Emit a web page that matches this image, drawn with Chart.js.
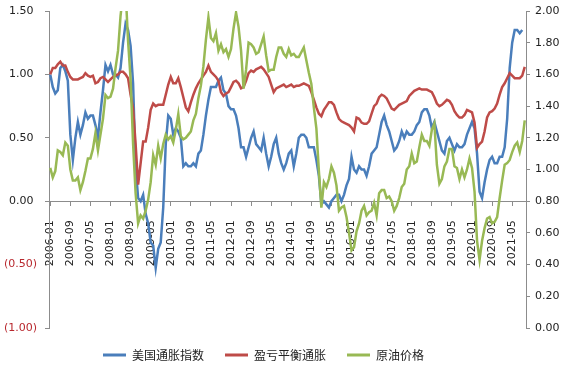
<!DOCTYPE html>
<html><head><meta charset="utf-8">
<script src="https://cdn.jsdelivr.net/npm/chart.js@4/dist/chart.umd.min.js"></script>
<style>html,body{margin:0;padding:0;background:#fff}</style>
</head><body>
<canvas id="c" width="569" height="366"></canvas>
<script>
// Categories: monthly, 2006-01 .. 2021-10
const startYear = 2006, monthCount = 190;
const categories = [];
for (let k = 0; k < monthCount; k++) {
  const y = startYear + Math.floor(k / 12), m = (k % 12) + 1;
  categories.push(y + '-' + (m < 10 ? '0' + m : m));
}
const labelEvery = 8;
const seriesNames = ['美国通胀指数', '盈亏平衡通胀', '原油价格'];

// 美国通胀指数 (left axis)
const usInflation = [
  1.000,0.900,0.850,0.875,1.050,1.075,1.025,0.950,0.525,0.325,0.500,0.625,
  0.525,0.600,0.700,0.650,0.675,0.675,0.600,0.500,0.700,0.875,1.075,1.025,
  1.075,1.000,1.000,0.975,1.050,1.250,1.400,1.350,1.225,0.925,0.275,0.025,
  0.000,0.050,-0.100,-0.175,-0.325,-0.350,-0.525,-0.375,-0.325,-0.050,0.450,0.675,
  0.650,0.525,0.575,0.550,0.500,0.275,0.300,0.275,0.275,0.300,0.275,0.375,
  0.400,0.525,0.675,0.800,0.900,0.900,0.900,0.950,0.975,0.875,0.850,0.750,
  0.725,0.725,0.675,0.575,0.425,0.425,0.350,0.425,0.500,0.550,0.450,0.425,
  0.400,0.500,0.375,0.275,0.350,0.450,0.500,0.375,0.300,0.250,0.300,0.375,
  0.400,0.275,0.375,0.500,0.525,0.525,0.500,0.425,0.425,0.425,0.325,0.200,
  -0.025,0.000,-0.025,-0.050,0.000,0.025,0.050,0.050,0.000,0.050,0.125,0.175,
  0.350,0.250,0.225,0.275,0.250,0.250,0.200,0.275,0.375,0.400,0.425,0.525,
  0.625,0.675,0.600,0.550,0.475,0.400,0.425,0.475,0.550,0.500,0.550,0.525,
  0.525,0.550,0.600,0.625,0.700,0.725,0.725,0.675,0.575,0.625,0.550,0.475,
  0.400,0.375,0.475,0.500,0.450,0.400,0.450,0.425,0.425,0.450,0.525,0.575,
  0.625,0.575,0.375,0.075,0.025,0.150,0.250,0.325,0.350,0.300,0.300,0.350,
  0.350,0.425,0.650,1.050,1.250,1.350,1.350,1.325,1.350,null
];
// 盈亏平衡通胀 (left axis)
const breakeven = [
  1.00,1.05,1.05,1.08,1.10,1.07,1.07,1.02,0.98,0.96,0.96,0.96,
  0.97,0.98,1.01,0.99,0.98,0.99,0.93,0.94,0.97,0.98,0.96,0.94,
  0.96,0.98,0.99,1.00,1.02,1.02,1.00,0.97,0.84,0.73,0.45,0.13,
  0.30,0.47,0.47,0.58,0.72,0.77,0.75,0.76,0.76,0.76,0.84,0.92,
  0.98,0.93,0.93,0.97,0.90,0.82,0.74,0.71,0.78,0.84,0.89,0.93,
  0.96,0.99,1.02,1.07,1.02,1.00,0.98,0.95,0.86,0.83,0.85,0.86,
  0.90,0.94,0.95,0.93,0.89,0.90,0.95,1.01,1.03,1.02,1.04,1.05,
  1.06,1.04,1.01,0.98,0.92,0.86,0.89,0.90,0.91,0.92,0.90,0.91,
  0.92,0.90,0.91,0.91,0.92,0.93,0.92,0.91,0.86,0.80,0.74,0.69,
  0.67,0.72,0.75,0.78,0.78,0.76,0.70,0.65,0.63,0.62,0.61,0.60,
  0.58,0.55,0.66,0.65,0.62,0.61,0.61,0.63,0.69,0.75,0.77,0.82,
  0.84,0.83,0.81,0.77,0.73,0.72,0.74,0.76,0.77,0.78,0.79,0.83,
  0.85,0.87,0.88,0.89,0.88,0.88,0.88,0.87,0.86,0.82,0.77,0.75,
  0.76,0.78,0.80,0.79,0.76,0.71,0.68,0.66,0.66,0.68,0.72,0.71,
  0.70,0.62,0.42,0.45,0.47,0.55,0.66,0.70,0.71,0.73,0.77,0.84,
  0.90,0.93,0.97,1.01,0.99,0.97,0.97,0.97,0.99,1.06
];
// 原油价格 (right axis)
const oilPrice = [
  1.01,0.95,0.99,1.12,1.11,1.09,1.17,1.15,1.00,0.93,0.93,0.95,
  0.87,0.92,0.99,1.07,1.07,1.13,1.23,1.12,1.22,1.32,1.47,1.45,
  1.46,1.51,1.64,1.75,1.97,2.11,2.13,1.81,1.57,1.16,0.85,0.66,
  0.71,0.69,0.74,0.81,0.92,1.09,1.03,1.15,1.07,1.16,1.22,1.19,
  1.21,1.17,1.25,1.35,1.21,1.19,1.20,1.22,1.24,1.31,1.35,1.45,
  1.53,1.65,1.82,1.96,1.83,1.81,1.86,1.75,1.79,1.74,1.76,1.71,
  1.76,1.89,1.99,1.90,1.75,1.51,1.63,1.80,1.79,1.77,1.73,1.74,
  1.79,1.84,1.72,1.62,1.63,1.63,1.71,1.77,1.77,1.73,1.71,1.76,
  1.72,1.73,1.71,1.71,1.74,1.77,1.69,1.61,1.54,1.39,1.26,0.99,
  0.76,0.92,0.89,0.94,1.02,0.98,0.90,0.74,0.76,0.77,0.70,0.60,
  0.49,0.51,0.61,0.66,0.74,0.77,0.71,0.73,0.74,0.79,0.71,0.85,
  0.87,0.87,0.82,0.83,0.80,0.74,0.77,0.82,0.89,0.91,1.00,1.02,
  1.10,1.04,1.05,1.14,1.22,1.18,1.18,1.15,1.25,1.29,1.03,0.91,
  0.94,1.02,1.05,1.13,1.13,1.02,1.01,0.94,1.00,0.95,1.00,1.07,
  1.01,0.86,0.55,0.43,0.55,0.63,0.69,0.70,0.66,0.67,0.70,0.82,
  0.93,1.03,1.04,1.06,1.11,1.15,1.17,1.11,1.18,1.31
];

const colors = ['#4A7EBB', '#BE4B48', '#98B954'];
const tickFont = {family: '"DejaVu Sans", sans-serif', size: 11};
const axisGray = '#8C8C8C';

new Chart(document.getElementById('c'), {
  type: 'line',
  data: {
    labels: categories,
    datasets: [
      {label: seriesNames[0], data: usInflation, yAxisID: 'y', borderColor: colors[0], backgroundColor: colors[0], order: 2},
      {label: seriesNames[1], data: breakeven, yAxisID: 'y', borderColor: colors[1], backgroundColor: colors[1], order: 1},
      {label: seriesNames[2], data: oilPrice, yAxisID: 'y1', borderColor: colors[2], backgroundColor: colors[2], order: 0}
    ]
  },
  options: {
    responsive: false,
    animation: false,
    devicePixelRatio: 1,
    layout: {padding: {top: 11, left: -42, right: 0, bottom: -5}},
    elements: {point: {radius: 0}, line: {borderWidth: 2.5, tension: 0}},
    plugins: {
      tooltip: {enabled: false},
      legend: {
        position: 'bottom',
        labels: {
          boxWidth: 23, boxHeight: 3, padding: 21, color: '#222',
          font: {family: '"Noto Sans CJK SC", sans-serif', size: 12},
          sort: (a, b) => a.datasetIndex - b.datasetIndex,
          generateLabels: (chart) => Chart.defaults.plugins.legend.labels.generateLabels(chart).map(it => Object.assign(it, {lineWidth: 0}))
        }
      }
    },
    scales: {
      x: {
        type: 'category',
        position: {y: 0},
        offset: true,
        grid: {display: true, drawOnChartArea: false, drawTicks: true, tickLength: 4, color: axisGray},
        border: {display: true, color: axisGray, width: 1},
        ticks: {
          autoSkip: false, maxRotation: 90, minRotation: 90, padding: 15,
          color: '#222', font: tickFont,
          callback: (v, i) => (i % labelEvery === 0 ? categories[i] : null)
        },
        afterFit: (s) => { s.paddingLeft = 0; s.paddingRight = 0; }
      },
      y: {
        position: 'left', min: -1, max: 1.5,
        grid: {drawOnChartArea: false, drawTicks: true, tickLength: 4, color: axisGray},
        border: {display: true, color: axisGray, width: 1},
        ticks: {
          stepSize: 0.5, padding: 8, font: tickFont,
          color: (ctx) => (ctx.tick && ctx.tick.value < 0 ? '#B8282E' : '#222'),
          callback: (v) => (v < 0 ? '(' + Math.abs(v).toFixed(2) + ')' : v.toFixed(2) + ' ')
        },
        afterFit: (s) => { s.width = 91; s.paddingTop = 0; s.paddingBottom = 0; }
      },
      y1: {
        position: 'right', min: 0, max: 2,
        grid: {drawOnChartArea: false, drawTicks: true, tickLength: 4, color: axisGray},
        border: {display: true, color: axisGray, width: 1},
        ticks: {
          stepSize: 0.2, padding: 5, font: tickFont, color: '#222',
          callback: (v) => v.toFixed(2)
        },
        afterFit: (s) => { s.width = 43; s.paddingTop = 0; s.paddingBottom = 0; }
      }
    }
  }
});
</script>
</body></html>
